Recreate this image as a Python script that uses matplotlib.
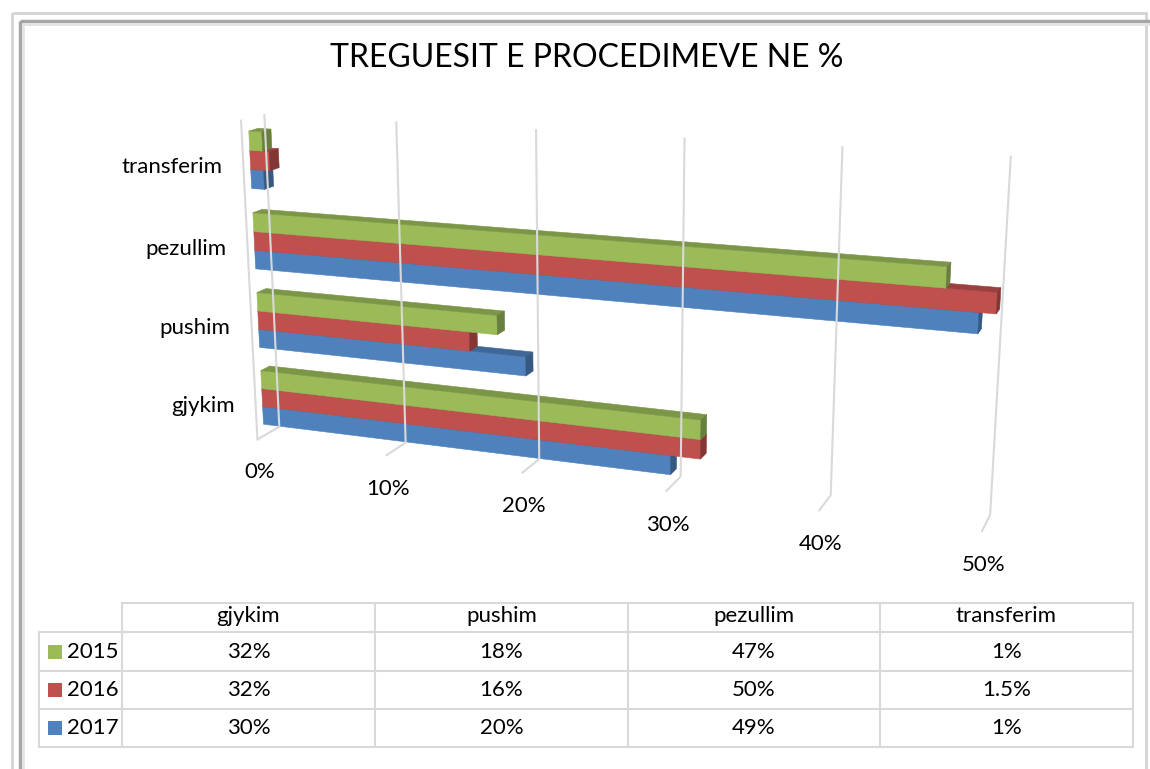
import numpy as np
import matplotlib
matplotlib.use('Agg')
import matplotlib.pyplot as plt
from matplotlib.patches import Polygon, Rectangle

# data (percent)
categories = ['gjykim', 'pushim', 'pezullim', 'transferim']
years = ['2015', '2016', '2017']
val_2015 = [32, 18, 47, 1]
val_2016 = [32, 16, 50, 1.5]
val_2017 = [30, 20, 49, 1]
xticks = [0, 10, 20, 30, 40, 50]
title = 'TREGUESIT E PROCEDIMEVE NE %'

series = {'2015': val_2015, '2016': val_2016, '2017': val_2017}
colors = {'2015': '#9BBB59', '2016': '#C0504D', '2017': '#4F81BD'}

plt.rcParams['font.family'] = ['Lato', 'DejaVu Sans']

W, H = 1150, 769
fig = plt.figure(figsize=(W / 100, H / 100), dpi=100)
ax = fig.add_axes([0, 0, 1, 1])
ax.set_xlim(0, W)
ax.set_ylim(H, 0)
ax.axis('off')

# --- 3D camera: fitted (DLT) to where the box corners of the plot sit on the page
# world: x = value %, y = category units (0..4), z = depth (0 front .. 1 back)
anchors = [
    ((0, 0, 0), (258, 438)), ((0, 4, 0), (240, 120)),
    ((0, 0, 1), (277, 427)), ((0, 4, 1), (266, 115)),
    ((10, 4, 1), (397, 122)), ((20, 4, 1), (535, 129)),
    ((30, 4, 1), (683, 137)), ((50, 4, 1), (1012, 155)),
    ((10, 0, 0), (387, 457)), ((10, 0, 1), (404, 443)),
    ((20, 0, 0), (522, 473)), ((20, 0, 1), (542, 458)),
    ((30, 0, 0), (665, 492)), ((30, 0, 1), (682, 476)),
    ((50, 0, 0), (981, 533)), ((50, 0, 1), (989, 515)),
]
rows = []
for (X, Y, Z), (u, v) in anchors:
    X, Y, u, v = X / 50.0, Y / 4.0, u / 1000.0, v / 1000.0
    rows.append([X, Y, Z, 1, 0, 0, 0, 0, -u * X, -u * Y, -u * Z, -u])
    rows.append([0, 0, 0, 0, X, Y, Z, 1, -v * X, -v * Y, -v * Z, -v])
_, _, vt = np.linalg.svd(np.array(rows))
P = vt[-1].reshape(3, 4)


def proj(x, y, z):
    p = P @ np.array([x / 50.0, y / 4.0, z, 1.0])
    return p[0] / p[2] * 1000, p[1] / p[2] * 1000


def face(pts, color):
    xy = [proj(*p) for p in pts]
    ax.add_patch(Polygon(xy, closed=True, facecolor=color, edgecolor=color, lw=0.4))


def shade(hexcol, f):
    c = np.array(matplotlib.colors.to_rgb(hexcol)) * f
    return tuple(c)


grid_col = '#d9d9d9'
# gridlines on back wall and floor
for v in xticks:
    a = proj(v, 0, 1); b = proj(v, 4, 1); c = proj(v, 0, 0)
    ax.plot([a[0], b[0]], [a[1], b[1]], color=grid_col, lw=1.5, solid_capstyle='butt')
    ax.plot([a[0], c[0]], [a[1], c[1]], color=grid_col, lw=1.5, solid_capstyle='butt')
a = proj(0, 0, 0); b = proj(0, 4, 0)
ax.plot([a[0], b[0]], [a[1], b[1]], color=grid_col, lw=1.5)

# bars, drawn bottom to top so upper bars hide lower top faces
group = 0.7
bh = group / 3
z0, z1 = 0.3, 0.7
for ci, cat in enumerate(categories):
    for k, yr in enumerate(['2017', '2016', '2015']):
        val = series[yr][ci]
        y0 = ci + (1 - group) / 2 + k * bh
        y1 = y0 + bh
        col = colors[yr]
        face([(0, y0, z0), (val, y0, z0), (val, y1, z0), (0, y1, z0)], col)
        face([(0, y1, z0), (val, y1, z0), (val, y1, z1), (0, y1, z1)], shade(col, 0.8))
        face([(val, y0, z0), (val, y0, z1), (val, y1, z1), (val, y1, z0)], shade(col, 0.68))

fs = 16
# axis labels
for v in xticks:
    x, y = proj(v, 0, 0)
    ax.text(x + 2, y + 33, f'{v}%', ha='center', va='center', fontsize=fs, color='#000000')
for ci, cat in enumerate(categories):
    x, y = proj(0, ci + 0.5, 0)
    ax.text(x - 21, y + 5, cat, ha='right', va='center', fontsize=fs, color='#000000')

ax.text(587, 58, title, ha='center', va='center', fontsize=23, color='#000000')

# --- data table
col_edges = [122, 375, 628, 880, 1133]
row_edges = [603, 632, 671, 709, 747]
leg_left = 39
tc = '#d9d9d9'
ax.plot([col_edges[0], col_edges[-1]], [row_edges[0]] * 2, color=tc, lw=1.5)
for ry in row_edges[1:]:
    ax.plot([leg_left, col_edges[-1]], [ry, ry], color=tc, lw=1.5)
ax.plot([leg_left, leg_left], [row_edges[1], row_edges[-1]], color=tc, lw=1.5)
for cx in col_edges:
    ax.plot([cx, cx], [row_edges[0], row_edges[-1]], color=tc, lw=1.5)

for j, cat in enumerate(categories):
    cx = (col_edges[j] + col_edges[j + 1]) / 2
    ax.text(cx, (row_edges[0] + row_edges[1]) / 2 - 1, cat, ha='center', va='center', fontsize=fs)
for i, yr in enumerate(years):
    cy = (row_edges[i + 1] + row_edges[i + 2]) / 2
    ax.add_patch(Rectangle((48, cy - 7), 14, 14, facecolor=colors[yr], edgecolor='none'))
    ax.text(67, cy, yr, ha='left', va='center', fontsize=fs)
    for j, val in enumerate(series[yr]):
        cx = (col_edges[j] + col_edges[j + 1]) / 2
        ax.text(cx, cy, f'{val:g}%', ha='center', va='center', fontsize=fs)

# --- picture frame (cut off at the right and bottom of the page)
ax.add_patch(Rectangle((11.5, 12.5), 1134, 800, fill=False, edgecolor='#d4d4d4', lw=2))
ax.add_patch(Rectangle((19.5, 20.5), 1200, 800, fill=False, edgecolor='#a6a6a6', lw=2.5))
ax.add_patch(Rectangle((22.5, 23.5), 1200, 800, fill=False, edgecolor='#e3e3e3', lw=2))

fig.savefig('out.png', dpi=100)
